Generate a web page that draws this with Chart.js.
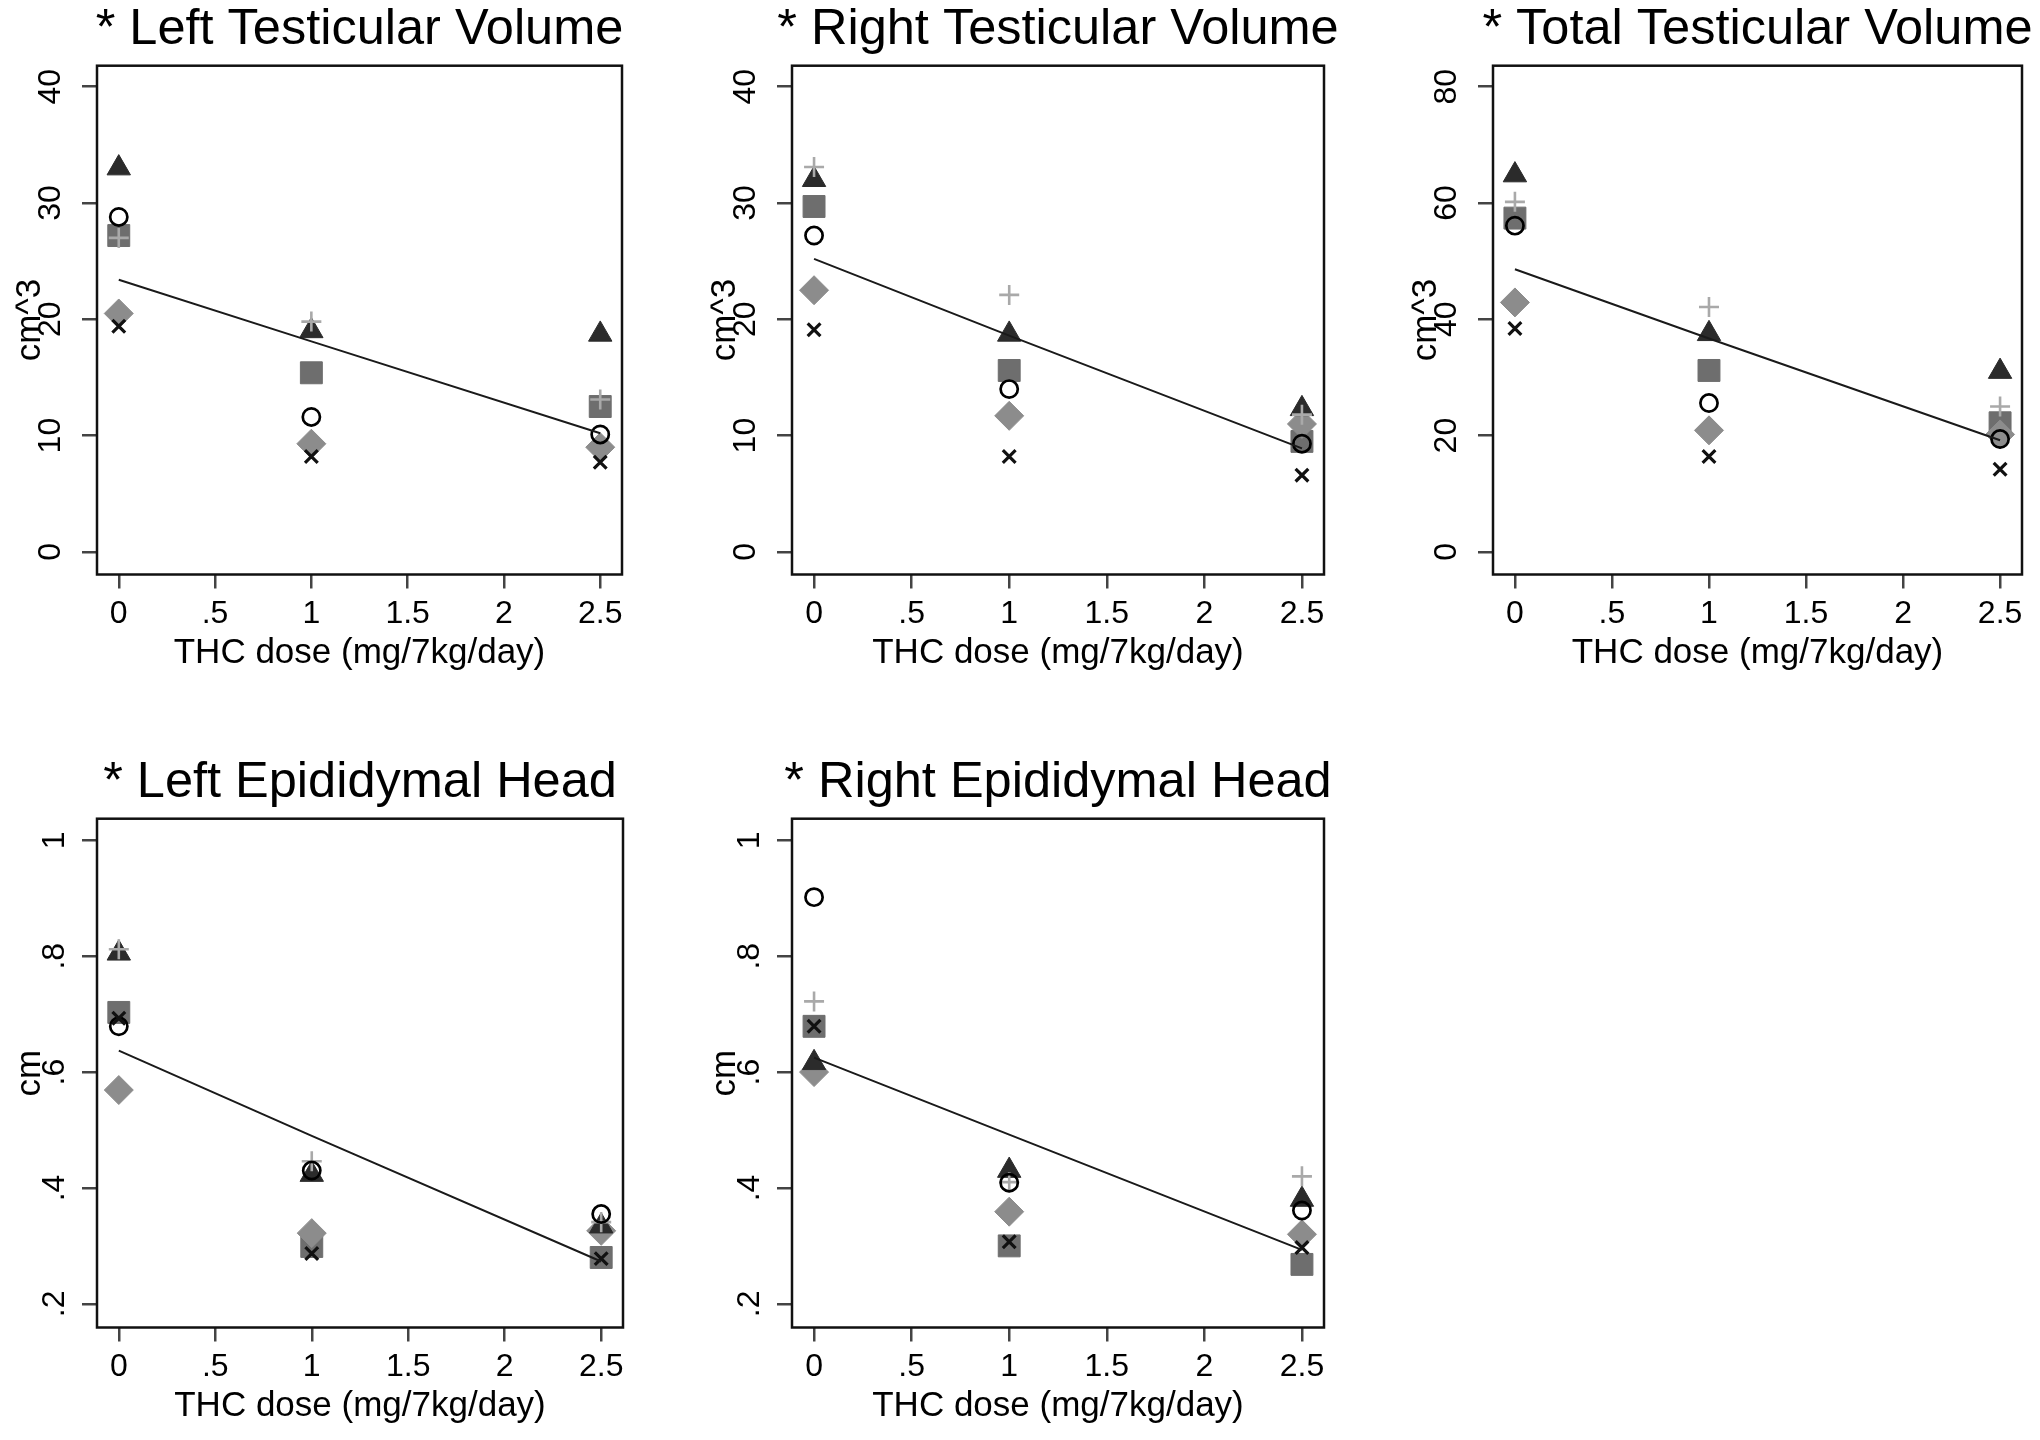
<!DOCTYPE html>
<html>
<head>
<meta charset="utf-8">
<script src="https://cdn.jsdelivr.net/npm/chart.js@4.4.1/dist/chart.umd.min.js"></script>
<style>
  html, body { margin: 0; padding: 0; background: #fff; }
  body { width: 2040px; height: 1440px; overflow: hidden; position: relative; }
  canvas { position: absolute; }
</style>
</head>
<body>
<script>
// ---------------- data ----------------
const doses = [0, 1, 2.5];
const xTickValues = [0, 0.5, 1, 1.5, 2, 2.5];
const xTickLabels = ['0', '.5', '1', '1.5', '2', '2.5'];
const volTickValues = [0, 10, 20, 30, 40];
const volTickLabels = ['0', '10', '20', '30', '40'];
const totalTickValues = [0, 20, 40, 60, 80];
const totalTickLabels = ['0', '20', '40', '60', '80'];
const headTickValues = [0.2, 0.4, 0.6, 0.8, 1];
const headTickLabels = ['.2', '.4', '.6', '.8', '1'];

const panelTitles = ['* Left Testicular Volume', '* Right Testicular Volume', '* Total Testicular Volume',
                     '* Left Epididymal Head', '* Right Epididymal Head'];
const yTitles = ['cm^3', 'cm^3', 'cm^3', 'cm', 'cm'];
const xTitle = 'THC dose (mg/7kg/day)';

// Left testicular volume
const ltvTriangle = [33.0, 19.0, 18.7];
const ltvCircle   = [28.8, 11.6, 10.1];
const ltvSquare   = [27.2, 15.4, 12.5];
const ltvPlus     = [27.0, 19.8, 13.1];
const ltvDiamond  = [20.5, 9.3, 9.0];
const ltvX        = [19.4, 8.2, 7.7];
const ltvFit      = [23.4, 18.1, 10.2];

// Right testicular volume
const rtvTriangle = [32.0, 18.7, 12.3];
const rtvCircle   = [27.2, 14.0, 9.3];
const rtvSquare   = [29.7, 15.6, 9.5];
const rtvPlus     = [33.1, 22.1, 11.8];
const rtvDiamond  = [22.5, 11.7, 11.0];
const rtvX        = [19.1, 8.2, 6.6];
const rtvFit      = [25.2, 18.6, 8.9];

// Total testicular volume
const ttvTriangle = [64.8, 37.5, 31.0];
const ttvCircle   = [56.1, 25.6, 19.4];
const ttvSquare   = [57.4, 31.2, 22.2];
const ttvPlus     = [60.2, 42.1, 25.0];
const ttvDiamond  = [42.9, 20.9, 20.2];
const ttvX        = [38.4, 16.4, 14.2];
const ttvFit      = [48.6, 36.7, 19.2];

// Left epididymal head
const lehTriangle = [0.805, 0.423, 0.334];
const lehCircle   = [0.679, 0.430, 0.355];
const lehSquare   = [0.703, 0.299, 0.280];
const lehPlus     = [0.812, 0.446, 0.341];
const lehDiamond  = [0.569, 0.322, 0.326];
const lehX        = [0.693, 0.287, 0.278];
const lehFit      = [0.637, 0.490, 0.273];

// Right epididymal head
const rehTriangle = [0.616, 0.430, 0.380];
const rehCircle   = [0.902, 0.409, 0.361];
const rehSquare   = [0.679, 0.300, 0.268];
const rehPlus     = [0.722, 0.410, 0.420];
const rehDiamond  = [0.600, 0.359, 0.320];
const rehX        = [0.679, 0.307, 0.297];
const rehFit      = [0.625, 0.492, 0.293];

// ---------------- styles / layout ----------------
const FONT = "'Liberation Sans', Arial, Helvetica, sans-serif";
Chart.defaults.font.family = FONT;
Chart.defaults.color = '#000';

const X_MIN = -0.113, X_MAX = 2.613;
const CH = 674;          // canvas height
const Y_AXIS_W = 100;    // left axis width (mirrored on right)
const X_AXIS_H = 99.5;

const MARKERS = {
  x:        { pointStyle: 'crossRot', pointRadius: 9,    pointBorderWidth: 3.2, pointBorderColor: '#111',    pointBackgroundColor: '#111' },
  circle:   { pointStyle: 'circle',   pointRadius: 8.6,  pointBorderWidth: 2.7, pointBorderColor: '#000',    pointBackgroundColor: 'rgba(0,0,0,0)' },
  plus:     { pointStyle: 'cross',    pointRadius: 10,   pointBorderWidth: 2.6, pointBorderColor: '#a9a9a9', pointBackgroundColor: '#a9a9a9' },
  triangle: { pointStyle: 'triangle', pointRadius: 13.5, pointBorderWidth: 1,   pointBorderColor: '#2b2b2b', pointBackgroundColor: '#2b2b2b' },
  diamond:  { pointStyle: 'rectRot',  pointRadius: 14.5, pointBorderWidth: 1,   pointBorderColor: '#8c8c8c', pointBackgroundColor: '#8c8c8c' },
  square:   { pointStyle: 'rect',     pointRadius: 15.5, pointBorderWidth: 1,   pointBorderColor: '#6e6e6e', pointBackgroundColor: '#6e6e6e' }
};
const DRAW_ORDER = ['x', 'circle', 'plus', 'triangle', 'diamond', 'square']; // first = on top

const PANELS = [
  { title: panelTitles[0], yTitle: yTitles[0], yTicks: volTickValues, yLabels: volTickLabels, yMin: -1.944, yMax: 41.806,
    series: { x: ltvX, circle: ltvCircle, plus: ltvPlus, triangle: ltvTriangle, diamond: ltvDiamond, square: ltvSquare }, fit: ltvFit,
    left: 97, width: 525, top: 0 },
  { title: panelTitles[1], yTitle: yTitles[1], yTicks: volTickValues, yLabels: volTickLabels, yMin: -1.944, yMax: 41.806,
    series: { x: rtvX, circle: rtvCircle, plus: rtvPlus, triangle: rtvTriangle, diamond: rtvDiamond, square: rtvSquare }, fit: rtvFit,
    left: 792, width: 532, top: 0 },
  { title: panelTitles[2], yTitle: yTitles[2], yTicks: totalTickValues, yLabels: totalTickLabels, yMin: -3.89, yMax: 83.61,
    series: { x: ttvX, circle: ttvCircle, plus: ttvPlus, triangle: ttvTriangle, diamond: ttvDiamond, square: ttvSquare }, fit: ttvFit,
    left: 1493, width: 529, top: 0 },
  { title: panelTitles[3], yTitle: yTitles[3], yTicks: headTickValues, yLabels: headTickLabels, yMin: 0.1591, yMax: 1.0374,
    series: { x: lehX, circle: lehCircle, plus: lehPlus, triangle: lehTriangle, diamond: lehDiamond, square: lehSquare }, fit: lehFit,
    left: 97, width: 526, top: 753 },
  { title: panelTitles[4], yTitle: yTitles[4], yTicks: headTickValues, yLabels: headTickLabels, yMin: 0.1591, yMax: 1.0374,
    series: { x: rehX, circle: rehCircle, plus: rehPlus, triangle: rehTriangle, diamond: rehDiamond, square: rehSquare }, fit: rehFit,
    left: 792, width: 532, top: 753 }
];

const framePlugin = {
  id: 'frame',
  beforeDatasetsDraw(chart) {
    const { ctx, chartArea: a } = chart;
    ctx.save();
    ctx.strokeStyle = '#111';
    ctx.lineWidth = 2.5;
    ctx.strokeRect(a.left, a.top, a.right - a.left, a.bottom - a.top);
    ctx.restore();
  }
};

function series(vals) { return doses.map((d, i) => ({ x: d, y: vals[i] })); }

PANELS.forEach((p) => {
  const W = p.width + 2 * Y_AXIS_W;
  const cv = document.createElement('canvas');
  cv.width = W; cv.height = CH;
  cv.style.left = (p.left - Y_AXIS_W) + 'px';
  cv.style.top = p.top + 'px';
  cv.style.width = W + 'px';
  cv.style.height = CH + 'px';
  document.body.appendChild(cv);

  const datasets = [{
    data: series(p.fit), showLine: true, borderColor: '#1a1a1a', borderWidth: 2,
    pointRadius: 0, fill: false, tension: 0
  }];
  DRAW_ORDER.forEach(m => datasets.push(Object.assign({ data: series(p.series[m]), showLine: false }, MARKERS[m])));

  new Chart(cv, {
    type: 'scatter',
    data: { datasets },
    plugins: [framePlugin],
    options: {
      responsive: false, animation: false, devicePixelRatio: 1,
      layout: { padding: 0 },
      plugins: {
        legend: { display: false },
        tooltip: { enabled: false },
        title: { display: true, text: p.title, color: '#000',
                 font: { size: 50.5, weight: 'normal', lineHeight: 1 },
                 padding: { top: 4.6, bottom: 10.6 } }
      },
      scales: {
        x: {
          type: 'linear', position: 'bottom', min: X_MIN, max: X_MAX,
          afterBuildTicks: s => { s.ticks = xTickValues.map(v => ({ value: v })); },
          afterFit: s => { s.height = X_AXIS_H; },
          ticks: { autoSkip: false, minRotation: 0, maxRotation: 0, padding: 6.2, color: '#000',
                   font: { size: 32 }, callback: (v, i) => xTickLabels[i] },
          grid: { display: true, drawOnChartArea: false, drawTicks: true, tickLength: 14, lineWidth: 2.5, color: '#444' },
          border: { display: false },
          title: { display: true, text: xTitle, color: '#000', font: { size: 35 }, padding: { top: 0, bottom: 0 } }
        },
        y: {
          type: 'linear', position: 'left', min: p.yMin, max: p.yMax,
          afterBuildTicks: s => { s.ticks = p.yTicks.map(v => ({ value: v })); },
          afterFit: s => { s.width = Y_AXIS_W; },
          ticks: { autoSkip: false, minRotation: 90, maxRotation: 90, crossAlign: 'center', padding: 13.2,
                   color: '#000', font: { size: 32 }, callback: (v, i) => p.yLabels[i] },
          grid: { display: true, drawOnChartArea: false, drawTicks: true, tickLength: 15, lineWidth: 2.5, color: '#444' },
          border: { display: false },
          title: { display: true, text: p.yTitle, color: '#000', font: { size: 35 }, padding: { top: 12.8, bottom: 0 } }
        },
        yR: {
          type: 'linear', position: 'right', min: 0, max: 1,
          ticks: { display: false }, grid: { display: false }, border: { display: false },
          title: { display: false },
          afterFit: s => { s.width = Y_AXIS_W; }
        }
      }
    }
  });
});
</script>
</body>
</html>
